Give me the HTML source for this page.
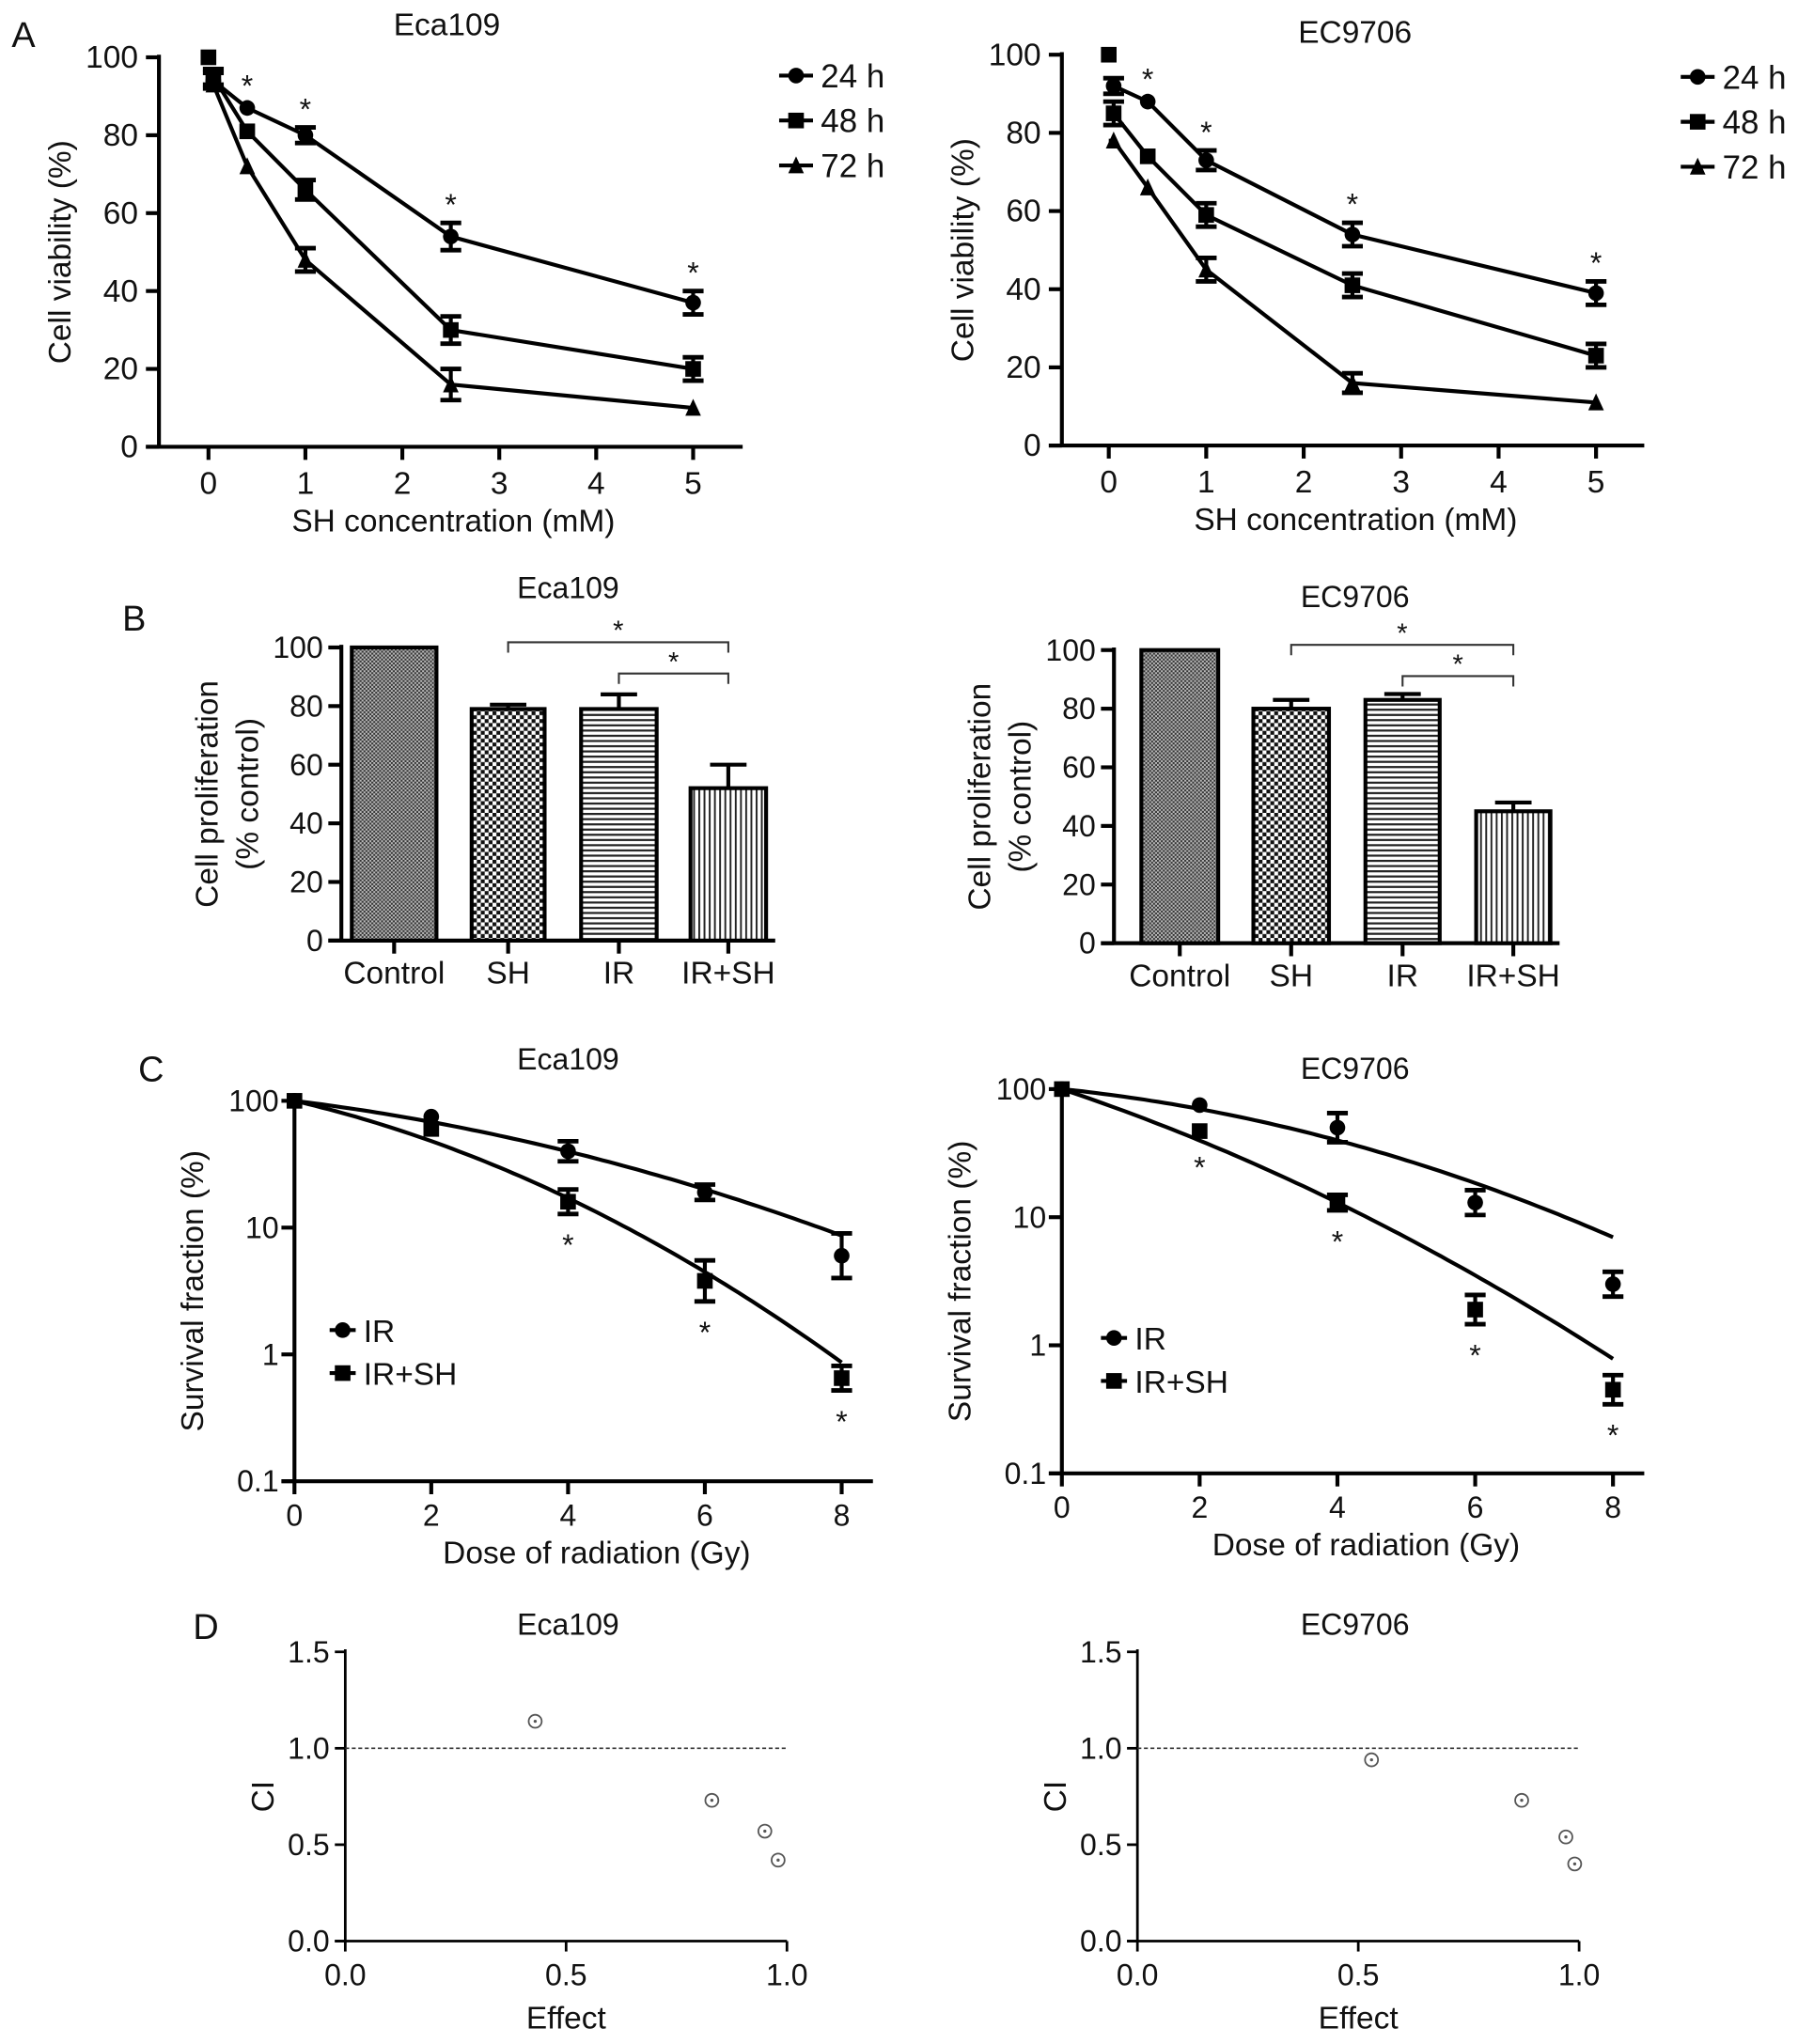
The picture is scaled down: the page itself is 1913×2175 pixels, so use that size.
<!DOCTYPE html>
<html><head><meta charset="utf-8"><style>
html,body{margin:0;padding:0;background:#fff;}
svg{display:block;font-family:"Liberation Sans",Arial,sans-serif;}
</style></head><body>
<svg id="fig" width="1913" height="2175" viewBox="0 0 1380 1569" preserveAspectRatio="none" xmlns="http://www.w3.org/2000/svg">
<defs>
<pattern id="pCtrl" width="3" height="3" patternUnits="userSpaceOnUse"><rect width="3" height="3" fill="#bbb"/><rect width="1.5" height="1.5" fill="#333"/><rect x="1.5" y="1.5" width="1.5" height="1.5" fill="#333"/></pattern>
<pattern id="pSH" width="6" height="6" patternUnits="userSpaceOnUse"><rect width="6" height="6" fill="#fff"/><rect width="3" height="3" fill="#111"/><rect x="3" y="3" width="3" height="3" fill="#111"/></pattern>
<pattern id="pIR" width="6" height="4" patternUnits="userSpaceOnUse"><rect width="6" height="4" fill="#fff"/><rect y="0" width="6" height="1.6" fill="#222"/></pattern>
<pattern id="pIRSH" width="4" height="6" patternUnits="userSpaceOnUse"><rect width="4" height="6" fill="#fff"/><rect x="0" width="1.4" height="6" fill="#222"/></pattern>
</defs>
</svg>
<script>
// ---- Panel A data ----
const concA = [0.05, 0.4, 1, 2.5, 5];
const ctrlA = 100;
const ecaA24 = [94, 87, 80, 54, 37];
const ecaA48 = [95, 81, 66, 30, 20];
const ecaA72 = [93, 72, 48, 16, 10];
const ecaA24e = [2, 1, 2, 3.5, 3];
const ecaA48e = [2, 1, 2.5, 3.5, 3];
const ecaA72e = [1, 1, 3, 4, 1];
const ecA24 = [92, 88, 73, 54, 39];
const ecA48 = [85, 74, 59, 41, 23];
const ecA72 = [78, 66, 45, 16, 11];
const ecA24e = [2, 1, 2.5, 3, 3];
const ecA48e = [3, 1, 3, 3, 3];
const ecA72e = [1, 1, 3, 2.5, 1];
const ticksA_x = [0, 1, 2, 3, 4, 5];
const ticksA_y = [0, 20, 40, 60, 80, 100];
// ---- Panel B data ----
const groupsB = ["Control", "SH", "IR", "IR+SH"];
const ecaB = [100, 79, 79, 52];
const ecaBe = [0, 1.5, 5, 8];
const ecB = [100, 80, 83, 45];
const ecBe = [0, 3, 2, 3];
const ticksB_y = [0, 20, 40, 60, 80, 100];
// ---- Panel C data ----
const doseC = [0, 2, 4, 6, 8];
const ecaC_IR = [100, 75, 40, 19, 6];
const ecaC_IRe = [1.1, 1.05, 1.2, 1.15, 1.5];
const ecaC_SH = [100, 60, 16, 3.8, 0.65];
const ecaC_SHe = [1.1, 1.1, 1.25, 1.45, 1.25];
const ecaC_fitIR = [0.154, 0.019];
const ecaC_fitSH = [0.29, 0.038];
const ecC_IR = [100, 75, 50, 13, 3];
const ecC_IRe = [1.1, 1.05, 1.3, 1.25, 1.25];
const ecC_SH = [100, 47, 13, 1.9, 0.45];
const ecC_SHe = [1.1, 1.1, 1.15, 1.3, 1.3];
const ecC_fitIR = [0.128, 0.0256];
const ecC_fitSH = [0.414, 0.024];
const ticksC_x = [0, 2, 4, 6, 8];
const ticksC_y = [0.1, 1, 10, 100];
const ecaC_star = [4, 6, 8];
const ecC_star = [2, 4, 6, 8];
// ---- Panel D data ----
const ecaD_eff = [0.43, 0.83, 0.95, 0.98];
const ecaD_ci = [1.14, 0.73, 0.57, 0.42];
const ecD_eff = [0.53, 0.87, 0.97, 0.99];
const ecD_ci = [0.94, 0.73, 0.54, 0.40];
const ticksD_x = [0.0, 0.5, 1.0];
const ticksD_y = [0.0, 0.5, 1.0, 1.5];

const NS = "http://www.w3.org/2000/svg";
const svg = document.getElementById("fig");
function el(tag, attrs, parent) {
  const e = document.createElementNS(NS, tag);
  for (const k in attrs) e.setAttribute(k, attrs[k]);
  (parent || svg).appendChild(e);
  return e;
}
function txt(x, y, s, size, anchor, parent, rot) {
  const t = el("text", {x: x, y: y, "font-size": size * 1.05, "text-anchor": anchor || "middle", fill: "#111"}, parent);
  if (rot) t.setAttribute("transform", "rotate(-90 " + x + " " + y + ")");
  t.textContent = s;
  return t;
}
function group(name) {
  const g = el("g", {});
  
  
  return g;
}
function marker(g, type, x, y, s) {
  s = s || 6;
  if (type === "circle") el("circle", {cx: x, cy: y, r: s, fill: "#000"}, g);
  else if (type === "square") el("rect", {x: x - s, y: y - s, width: 2 * s, height: 2 * s, fill: "#000"}, g);
  else el("polygon", {points: (x - s) + "," + (y + s) + " " + (x + s) + "," + (y + s) + " " + x + "," + (y - s - 1), fill: "#000"}, g);
}
function errbar(g, x, y1, y2, w) {
  el("line", {x1: x, y1: y1, x2: x, y2: y2, stroke: "#000", "stroke-width": 3}, g);
  el("line", {x1: x - w, y1: y1, x2: x + w, y2: y1, stroke: "#000", "stroke-width": 3.5}, g);
  el("line", {x1: x - w, y1: y2, x2: x + w, y2: y2, stroke: "#000", "stroke-width": 3.5}, g);
}

// panel letters
[["A", 18, 36], ["B", 103, 484], ["C", 116, 830], ["D", 158, 1258]].forEach(function (p) {
  const t = txt(p[1], p[2], p[0], 26, "middle");
  
  
});

// ---------- Panel A ----------
function panelA(name, ax, x0, x5, y0, y100, xEnd, title, tx, ty, s24, s48, s72, e24, e48, e72, starY, lx, ly) {
  const g = group(name);
  const X = function (v) { return x0 + (x5 - x0) * v / 5; };
  const Y = function (v) { return y0 + (y100 - y0) * v / 100; };
  el("line", {x1: ax, y1: Y(100) - 2, x2: ax, y2: y0 + 1, stroke: "#000", "stroke-width": 3}, g);
  el("line", {x1: ax - 10, y1: y0, x2: xEnd, y2: y0, stroke: "#000", "stroke-width": 3}, g);
  ticksA_y.forEach(function (v) {
    el("line", {x1: ax - 10, y1: Y(v), x2: ax, y2: Y(v), stroke: "#000", "stroke-width": 3}, g);
    txt(ax - 16, Y(v) + 8, String(v), 23, "end", g);
  });
  ticksA_x.forEach(function (v) {
    el("line", {x1: X(v), y1: y0, x2: X(v), y2: y0 + 10, stroke: "#000", "stroke-width": 3}, g);
    txt(X(v), y0 + 36, String(v), 23, "middle", g);
  });
  txt((ax + xEnd) / 2 + 2, y0 + 65, "SH concentration (mM)", 23, "middle", g);
  txt(ax - 68, (Y(0) + Y(100)) / 2, "Cell viability (%)", 23, "middle", g, true);
  txt(tx, ty, title, 23, "middle", g);
  const series = [[s24, e24, "circle"], [s48, e48, "square"], [s72, e72, "triangle"]];
  series.forEach(function (s) {
    let d = "M" + X(0) + "," + Y(s[0][0]);
    concA.forEach(function (c, i) { d += " L" + X(c) + "," + Y(s[0][i]); });
    el("path", {d: d, fill: "none", stroke: "#000", "stroke-width": 3}, g);
    concA.forEach(function (c, i) {
      if (s[1][i] > 1.2) errbar(g, X(c), Y(s[0][i] + s[1][i]), Y(s[0][i] - s[1][i]), 8);
      marker(g, s[2], X(c), Y(s[0][i]), 6);
    });
  });
  marker(g, "square", X(0), Y(ctrlA), 6);
  concA.slice(1).forEach(function (c, i) {
    txt(X(c), Y(s24[i + 1] + e24[i + 1]) - 6, "*", 22, "middle", g);
  });
  ["24 h", "48 h", "72 h"].forEach(function (lab, i) {
    const lg = group("legend-entry-" + lab.replace(" ", ""));
    g.appendChild(lg);
    const yy = ly + i * 34.5;
    el("line", {x1: lx, y1: yy, x2: lx + 26, y2: yy, stroke: "#000", "stroke-width": 3}, lg);
    marker(lg, ["circle", "square", "triangle"][i], lx + 13, yy, 6);
    txt(lx + 32, yy + 9, lab, 24, "start", lg);
  });
}
panelA("chart-a-eca109", 122, 160, 532, 343, 44, 570, "Eca109", 343, 27, ecaA24, ecaA48, ecaA72, ecaA24e, ecaA48e, ecaA72e, 0, 598, 58);
panelA("chart-a-ec9706", 815, 851, 1225, 342, 42, 1262, "EC9706", 1040, 33, ecA24, ecA48, ecA72, ecA24e, ecA48e, ecA72e, 0, 1290, 59);

// ---------- Panel B ----------
const fillsB = ["url(#pCtrl)", "url(#pSH)", "url(#pIR)", "url(#pIRSH)"];
function panelB(name, ax, y0, y100, bars, xEnd, vals, errs, title, tx, ty) {
  const g = group(name);
  const Y = function (v) { return y0 + (y100 - y0) * v / 100; };
  el("line", {x1: ax, y1: Y(100) - 2, x2: ax, y2: y0 + 1, stroke: "#000", "stroke-width": 3}, g);
  el("line", {x1: ax - 10, y1: y0, x2: xEnd, y2: y0, stroke: "#000", "stroke-width": 3}, g);
  ticksB_y.forEach(function (v) {
    el("line", {x1: ax - 10, y1: Y(v), x2: ax, y2: Y(v), stroke: "#000", "stroke-width": 3}, g);
    txt(ax - 14, Y(v) + 8, String(v), 22, "end", g);
  });
  vals.forEach(function (v, i) {
    const b = bars[i];
    const cx = (b[0] + b[1]) / 2;
    if (errs[i] > 0) {
      el("line", {x1: cx, y1: Y(v), x2: cx, y2: Y(v + errs[i]), stroke: "#000", "stroke-width": 3}, g);
      el("line", {x1: cx - 14, y1: Y(v + errs[i]), x2: cx + 14, y2: Y(v + errs[i]), stroke: "#000", "stroke-width": 3}, g);
    }
    const r = el("rect", {x: b[0], y: Y(v), width: b[1] - b[0], height: Y(0) - Y(v), fill: fillsB[i], stroke: "#000", "stroke-width": 3}, g);
    
    
    el("line", {x1: cx, y1: y0, x2: cx, y2: y0 + 10, stroke: "#000", "stroke-width": 3}, g);
    txt(cx, y0 + 33, groupsB[i], 23, "middle", g);
  });
  const c = bars.map(function (b) { return (b[0] + b[1]) / 2; });
  const by1 = Y(100) - 4, by2 = Y(100) + 20;
  el("path", {d: "M" + c[1] + "," + (by1 + 8) + " V" + by1 + " H" + c[3] + " V" + (by1 + 8), fill: "none", stroke: "#333", "stroke-width": 1.5}, g);
  txt((c[1] + c[3]) / 2, by1 - 2, "*", 20, "middle", g);
  el("path", {d: "M" + c[2] + "," + (by2 + 8) + " V" + by2 + " H" + c[3] + " V" + (by2 + 8), fill: "none", stroke: "#333", "stroke-width": 1.5}, g);
  txt((c[2] + c[3]) / 2, by2 - 2, "*", 20, "middle", g);
  txt(ax - 95, (Y(0) + Y(100)) / 2, "Cell proliferation", 23, "middle", g, true);
  txt(ax - 64, (Y(0) + Y(100)) / 2, "(% control)", 23, "middle", g, true);
  txt(tx, ty, title, 22, "middle", g);
}
panelB("chart-b-eca109", 262, 722, 497, [[270, 335], [362, 418], [446, 504], [530, 588]], 595, ecaB, ecaBe, "Eca109", 436, 459);
panelB("chart-b-ec9706", 855, 724, 499, [[876, 935], [962, 1020], [1048, 1105], [1133, 1190]], 1197, ecB, ecBe, "EC9706", 1040, 466);

// ---------- Panel C ----------
function panelC(name, x0, x8, y100, y01, xEnd, ir, ire, sh, she, fir, fsh, stars, title, tx, ty, lx, ly) {
  const g = group(name);
  const X = function (v) { return x0 + (x8 - x0) * v / 8; };
  const Y = function (v) { return y01 + (y100 - y01) * (Math.log10(v) + 1) / 3; };
  el("line", {x1: x0, y1: y100 - 2, x2: x0, y2: y01 + 1, stroke: "#000", "stroke-width": 3}, g);
  el("line", {x1: x0 - 10, y1: y01, x2: xEnd, y2: y01, stroke: "#000", "stroke-width": 3}, g);
  ticksC_y.forEach(function (v) {
    el("line", {x1: x0 - 10, y1: Y(v), x2: x0, y2: Y(v), stroke: "#000", "stroke-width": 3}, g);
    txt(x0 - 12, Y(v) + 8, String(v), 22, "end", g);
  });
  ticksC_x.forEach(function (v) {
    el("line", {x1: X(v), y1: y01, x2: X(v), y2: y01 + 10, stroke: "#000", "stroke-width": 3}, g);
    txt(X(v), y01 + 34, String(v), 22, "middle", g);
  });
  txt((x0 + xEnd) / 2 + 10, y01 + 63, "Dose of radiation (Gy)", 23, "middle", g);
  txt(x0 - 70, (y100 + y01) / 2, "Survival fraction (%)", 23, "middle", g, true);
  txt(tx, ty, title, 22, "middle", g);
  [fir, fsh].forEach(function (f) {
    let d = "";
    for (let k = 0; k <= 80; k++) {
      const D = k / 10;
      const s = 100 * Math.exp(-f[0] * D - f[1] * D * D);
      d += (k ? " L" : "M") + X(D).toFixed(1) + "," + Y(s).toFixed(1);
    }
    el("path", {d: d, fill: "none", stroke: "#000", "stroke-width": 3}, g);
  });
  [[ir, ire, "circle"], [sh, she, "square"]].forEach(function (s) {
    doseC.forEach(function (D, i) {
      if (s[1][i] > 1.12) errbar(g, X(D), Y(s[0][i] * s[1][i]), Y(s[0][i] / s[1][i]), 8);
      marker(g, s[2], X(D), Y(s[0][i]), 6);
    });
  });
  stars.forEach(function (D) {
    const i = doseC.indexOf(D);
    txt(X(D), Y(sh[i] / she[i]) + 32, "*", 22, "middle", g);
  });
  ["IR", "IR+SH"].forEach(function (lab, i) {
    const lg = group("legend-entry-" + lab.toLowerCase().replace("+", "-"));
    g.appendChild(lg);
    const yy = ly + i * 33;
    el("line", {x1: lx, y1: yy, x2: lx + 20, y2: yy, stroke: "#000", "stroke-width": 3}, lg);
    marker(lg, i ? "square" : "circle", lx + 10, yy, 6);
    txt(lx + 26, yy + 9, lab, 23, "start", lg);
  });
}
panelC("chart-c-eca109", 226, 646, 845, 1137, 670, ecaC_IR, ecaC_IRe, ecaC_SH, ecaC_SHe, ecaC_fitIR, ecaC_fitSH, ecaC_star, "Eca109", 436, 821, 253, 1021);
panelC("chart-c-ec9706", 815, 1238, 836, 1131, 1262, ecC_IR, ecC_IRe, ecC_SH, ecC_SHe, ecC_fitIR, ecC_fitSH, ecC_star, "EC9706", 1040, 828, 845, 1027);

// ---------- Panel D ----------
function panelD(name, x0, x1, y0, y15, eff, ci, title, tx, ty) {
  const g = group(name);
  const X = function (v) { return x0 + (x1 - x0) * v; };
  const Y = function (v) { return y0 + (y15 - y0) * v / 1.5; };
  el("line", {x1: x0, y1: y15 - 2, x2: x0, y2: y0 + 1, stroke: "#000", "stroke-width": 2}, g);
  el("line", {x1: x0 - 8, y1: y0, x2: X(1), y2: y0, stroke: "#000", "stroke-width": 2}, g);
  ticksD_y.forEach(function (v) {
    el("line", {x1: x0 - 8, y1: Y(v), x2: x0, y2: Y(v), stroke: "#000", "stroke-width": 2}, g);
    txt(x0 - 12, Y(v) + 8, v.toFixed(1), 22, "end", g);
  });
  ticksD_x.forEach(function (v) {
    el("line", {x1: X(v), y1: y0, x2: X(v), y2: y0 + 8, stroke: "#000", "stroke-width": 2}, g);
    txt(X(v), y0 + 34, v.toFixed(1), 22, "middle", g);
  });
  el("line", {x1: x0, y1: Y(1), x2: X(1), y2: Y(1), stroke: "#333", "stroke-width": 1.2, "stroke-dasharray": "3,2"}, g);
  txt((x0 + X(1)) / 2, y0 + 67, "Effect", 23, "middle", g);
  txt(x0 - 55, (y0 + y15) / 2, "CI", 23, "middle", g, true);
  txt(tx, ty, title, 22, "middle", g);
  eff.forEach(function (e, i) {
    el("circle", {cx: X(e), cy: Y(ci[i]), r: 5, fill: "#fff", stroke: "#555", "stroke-width": 1.3}, g);
    el("circle", {cx: X(e), cy: Y(ci[i]), r: 1.2, fill: "#555"}, g);
  });
}
panelD("chart-d-eca109", 265, 604, 1490, 1268, ecaD_eff, ecaD_ci, "Eca109", 436, 1255);
panelD("chart-d-ec9706", 873, 1212, 1490, 1268, ecD_eff, ecD_ci, "EC9706", 1040, 1255);
</script>
</body></html>
